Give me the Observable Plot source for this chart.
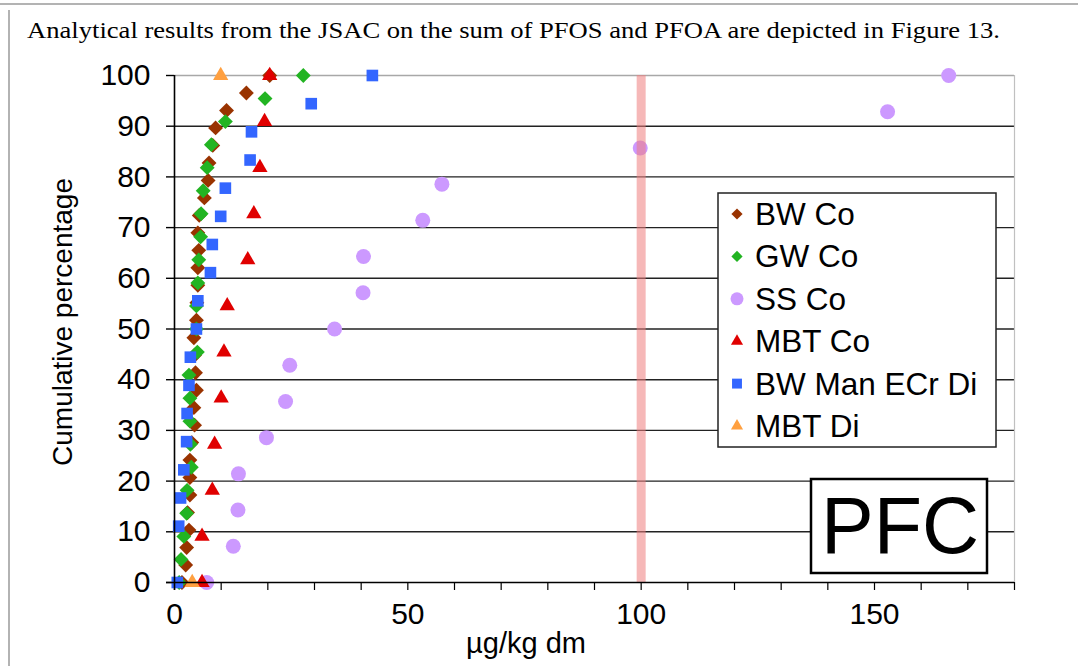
<!DOCTYPE html>
<html><head><meta charset="utf-8">
<script src="https://cdn.jsdelivr.net/npm/d3@7"></script>
<script src="https://cdn.jsdelivr.net/npm/@observablehq/plot@0.6"></script>
<style>
body{margin:0;background:#fff;}
#chart{width:1078px;height:666px;}
</style>
</head><body><div id="chart"></div>
<script>
// ---- data ----
const titleText = "Analytical results from the JSAC on the sum of PFOS and PFOA are depicted in Figure 13.";
const xLabel = "µg/kg dm";
const yLabel = "Cumulative percentage";
const boxLabel = "PFC";
const seriesNames = ["BW Co", "GW Co", "SS Co", "MBT Co", "BW Man ECr Di", "MBT Di"];
const seriesColors = ["#993300", "#22b422", "#cc99ff", "#e00000", "#3366ff", "#ffa040"];
const seriesSymbols = ["diamond2", "diamond2", "circle", "triangle2", "square2", "triangle2"];
const xTicks = [0,10,20,30,40,50,60,70,80,90,100,110,120,130,140,150,160,170,180];
const xTickLabels = [0, 50, 100, 150];
const yTicks = [0,10,20,30,40,50,60,70,80,90,100];
const limitValue = [100];

const bwCoX = [1.6,2.4,2.6,3.1,2.8,3.3,3.3,3.3,3.7,4.3,4.15,4.7,4.5,4.3,4.15,4.7,4.8,5.0,5.0,5.2,5.0,5.3,6.4,7.2,7.4,8.2,8.8,11.15,15.4,20.4];
const bwCoY = [0,3.45,6.9,10.34,13.79,17.24,20.69,24.14,27.59,31.03,34.48,37.93,41.38,44.83,48.28,51.72,55.17,58.62,62.07,65.52,68.97,72.41,75.86,79.31,82.76,86.21,89.66,93.1,96.55,100];
const gwCoX = [1.0,1.4,2.0,2.6,2.7,3.6,3.4,3.3,3.3,3.1,4.9,4.7,4.7,5.0,5.2,5.6,5.7,6.15,7.0,7.9,10.9,19.4,27.6];
const gwCoY = [0,4.55,9.09,13.64,18.18,22.73,27.27,31.82,36.36,40.91,45.45,50,54.55,59.09,63.64,68.18,72.73,77.27,81.82,86.36,90.91,95.45,100];
const ssCoX = [6.9,12.6,13.6,13.7,19.7,23.8,24.7,34.3,40.4,40.5,53.2,57.3,99.8,152.8,165.9];
const ssCoY = [0,7.14,14.29,21.43,28.57,35.71,42.86,50,57.14,64.29,71.43,78.57,85.71,92.86,100];
const mbtCoX = [5.9,5.9,8.1,8.6,10.0,10.6,11.3,15.7,17.0,18.3,19.3,20.4];
const mbtCoY = [0,9.09,18.18,27.27,36.36,45.45,54.55,63.64,72.73,81.82,90.91,100];
const bwManX = [0.6,0.9,1.3,2.0,2.6,2.7,3.1,3.4,4.7,5.0,7.7,8.1,9.9,10.9,16.2,16.5,29.3,42.4];
const bwManY = [0,11.11,16.67,22.22,27.78,33.33,38.89,44.44,50,55.56,61.11,66.67,72.22,77.78,83.33,88.89,94.44,100];
const mbtDiX = [3.8,9.9];
const mbtDiY = [0,100];

const seriesX = [bwCoX, gwCoX, ssCoX, mbtCoX, bwManX, mbtDiX];
const seriesY = [bwCoY, gwCoY, ssCoY, mbtCoY, bwManY, mbtDiY];
const symbolR = {diamond2: 6.7, circle: 7.5, triangle2: 7.3, square2: 7.4};

const dotMarks = seriesNames.map((name, i) => {
  const rows = seriesX[i].map((x, j) => ({x, y: seriesY[i][j], s: name}));
  return Plot.dot(rows, {x: "x", y: "y", symbol: () => seriesSymbols[i], fill: seriesColors[i], stroke: "none", r: symbolR[seriesSymbols[i]]});
});

const chart = Plot.plot({
  width: 1078, height: 666,
  marginLeft: 174, marginRight: 64, marginTop: 75, marginBottom: 84,
  style: {fontFamily: "'Liberation Sans', Arial, sans-serif", fontSize: "30px", background: "#fff", color: "#000"},
  x: {domain: [0, 180]},
  y: {domain: [0, 100]},
  marks: [
    Plot.ruleY(yTicks.filter(d => d > 0 && d < 100), {stroke: "#222", strokeWidth: 1.4}),
    Plot.ruleY([100], {stroke: "#a8a8a8", strokeWidth: 1.4}),
    Plot.ruleX([180], {stroke: "#c0c0c0", strokeWidth: 1.2}),
    Plot.axisY({ticks: yTicks, tickSize: 8, tickPadding: 16, label: null, strokeWidth: 1.4}),
    Plot.axisX({ticks: xTicks, tickSize: 8, tickPadding: 12, label: null, strokeWidth: 1.2,
      tickFormat: d => xTickLabels.includes(d) ? String(d) : ""}),
    ...dotMarks,
    Plot.ruleX(limitValue, {stroke: "#ee7d7d", strokeOpacity: 0.55, strokeWidth: 9}),
    Plot.ruleX([0], {stroke: "#000", strokeWidth: 1.6, insetBottom: -8}),
    Plot.ruleY([0], {stroke: "#000", strokeWidth: 1.6, insetLeft: -8})
  ]
});
document.getElementById("chart").appendChild(chart);

const svg = d3.select(chart);
const sans = "'Liberation Sans', Arial, sans-serif";
// outer page frame lines
svg.append("line").attr("x1", 0).attr("x2", 1078).attr("y1", 4).attr("y2", 4).attr("stroke", "#9a9a9a").attr("stroke-width", 1.5);
svg.append("line").attr("x1", 9).attr("x2", 9).attr("y1", 10).attr("y2", 666).attr("stroke", "#9a9a9a").attr("stroke-width", 1.5);
// title
svg.append("text").attr("x", 27).attr("y", 38).attr("text-anchor", "start").text(titleText)
  .attr("font-family", "'Liberation Serif', 'Times New Roman', serif").attr("font-size", 24)
  .attr("textLength", 973).attr("lengthAdjust", "spacingAndGlyphs").attr("fill", "#000");
// axis titles
svg.append("text").attr("transform", "translate(62,322) rotate(-90)").attr("text-anchor", "middle")
  .attr("dominant-baseline", "central").attr("font-size", 28).attr("font-family", sans).text(yLabel);
svg.append("text").attr("x", 526).attr("y", 653).attr("text-anchor", "middle")
  .attr("font-size", 29).attr("font-family", sans).text(xLabel);

// legend
const lg = svg.append("g");
lg.append("rect").attr("x", 718).attr("y", 193).attr("width", 278).attr("height", 254)
  .attr("fill", "#fff").attr("stroke", "#222").attr("stroke-width", 1.5);
const legSym = {diamond2: [d3.symbolDiamond2, 80], circle: [d3.symbolCircle, 133], triangle2: [d3.symbolTriangle2, 105], square2: [d3.symbolSquare2, 125]};
seriesNames.forEach((name, i) => {
  const cy = 214 + 42.4 * i;
  const [sym, size] = legSym[seriesSymbols[i]];
  lg.append("path").attr("d", d3.symbol(sym, size)()).attr("transform", `translate(737,${cy})`).attr("fill", seriesColors[i]);
  lg.append("text").attr("x", 755).attr("y", cy).attr("text-anchor", "start").attr("dominant-baseline", "central")
    .attr("font-size", 31.5).attr("font-family", sans).text(name);
});
// PFC box
svg.append("rect").attr("x", 811).attr("y", 479).attr("width", 176).attr("height", 94)
  .attr("fill", "#fff").attr("stroke", "#000").attr("stroke-width", 2.5);
svg.append("text").attr("x", 900).attr("y", 553).attr("text-anchor", "middle")
  .attr("font-size", 79).attr("font-family", sans).text(boxLabel);
</script>
</body></html>
